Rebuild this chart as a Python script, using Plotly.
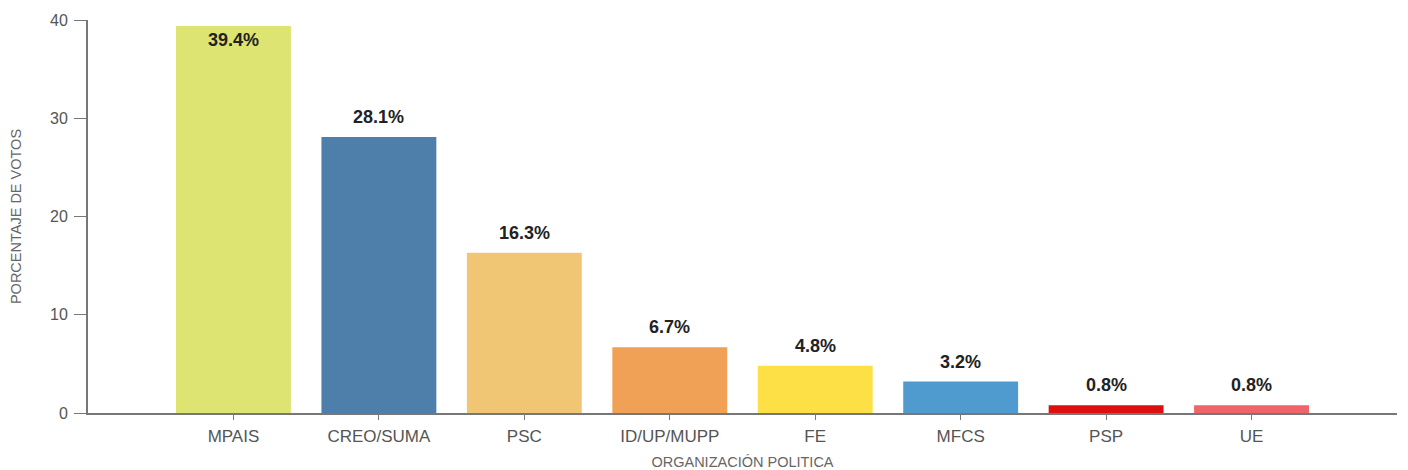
import plotly.graph_objects as go

categories = ["MPAIS", "CREO/SUMA", "PSC", "ID/UP/MUPP", "FE", "MFCS", "PSP", "UE"]
values = [39.4, 28.1, 16.3, 6.7, 4.8, 3.2, 0.8, 0.8]
labels = ["39.4%", "28.1%", "16.3%", "6.7%", "4.8%", "3.2%", "0.8%", "0.8%"]
colors = ["#dde472", "#4e7fab", "#f0c674", "#f0a155", "#fde045", "#4f9bd0", "#de0f10", "#f0636b"]
y_ticks = [0, 10, 20, 30, 40]

FONT = "Liberation Sans, Arial"

fig = go.Figure()
fig.add_trace(go.Bar(
    x=list(range(len(categories))), y=values,
    marker=dict(color=colors, line=dict(width=0)),
    width=0.79, hoverinfo="skip",
))

for i, (v, t) in enumerate(zip(values, labels)):
    inside = v > 37
    fig.add_annotation(
        x=i, y=v, text=t, showarrow=False,
        yshift=-14 if inside else 20,
        font=dict(family=FONT, size=18, color="#222222", weight="bold"),
    )

fig.update_layout(
    width=1400, height=462,
    margin=dict(l=80, r=11, t=12, b=57, autoexpand=False),
    plot_bgcolor="white", paper_bgcolor="white",
    showlegend=False,
    font=dict(family=FONT, color="#555555"),
    xaxis=dict(
        range=[-1, 8.0], automargin=False,
        tickmode="array", tickvals=list(range(len(categories))), ticktext=categories,
        showgrid=False, zeroline=False,
        showline=True, linecolor="#777777", linewidth=2,
        ticks="outside", ticklen=5, tickcolor="#777777", tickwidth=1,
        ticklabelstandoff=2,
        tickfont=dict(size=17, color="#555555"),
        title=dict(text="ORGANIZACIÓN POLITICA", font=dict(size=14.5, color="#666666"), standoff=20),
    ),
    yaxis=dict(
        range=[0, 40], tickvals=y_ticks, automargin=False,
        showgrid=False, zeroline=False,
        showline=True, linecolor="#777777", linewidth=2,
        ticks="outside", ticklen=12, tickcolor="#777777", tickwidth=1,
        ticklabelstandoff=3,
        tickfont=dict(size=16, color="#555555"),
        title=dict(text="PORCENTAJE DE VOTOS", font=dict(size=14.5, color="#666666"), standoff=36),
    ),
)

fig.write_html("out.html")
